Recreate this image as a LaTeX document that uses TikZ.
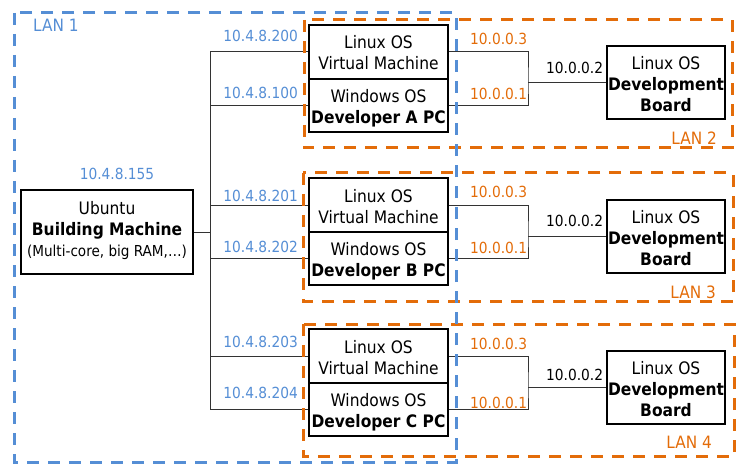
\documentclass[tikz,border=0pt]{standalone}
\usepackage{fontspec}
\setmainfont{DejaVu Sans Condensed}
\definecolor{lanblue}{HTML}{558ED5}
\definecolor{lanorange}{HTML}{E36C09}
\newcommand{\tsx}[1]{\rule{0pt}{#1pt}}
\newcommand{\bsx}[1]{\rule[-#1pt]{0pt}{#1pt}}
\pgfdeclarelayer{bg}
\pgfsetlayers{bg,main}
\tikzset{
  box/.style={draw=black, line width=2pt, fill=white, align=center, inner sep=0pt,
    font=\fontsize{17.2}{21}\selectfont},
  vmbox/.style={box, minimum width=139pt, minimum height=54pt},
  winbox/.style={box, minimum width=139pt, minimum height=53pt},
  boardbox/.style={box, minimum width=118pt, minimum height=73pt},
  ipblue/.style={font=\fontsize{15.3}{17}\selectfont, text=lanblue, inner sep=0pt},
  iporange/.style={font=\fontsize{15.3}{17}\selectfont, text=lanorange, inner sep=0pt},
  ipblack/.style={font=\fontsize{15.3}{17}\selectfont, text=black, inner sep=0pt},
  wire/.style={draw=black!80, line width=1pt},
  lanblueline/.style={draw=lanblue, line width=3pt, dash pattern=on 12pt off 9pt},
  lanorangeline/.style={draw=lanorange, line width=3pt, dash pattern=on 12pt off 9pt},
  lantag/.style={font=\fontsize{17}{19}\selectfont, inner sep=0pt}
}
\begin{document}
\begin{tikzpicture}[x=1pt,y=-1pt]
\useasboundingbox (0,0) rectangle (750,468);

% building machine
\node[box, minimum width=172pt, minimum height=83pt] (bm) at (107,232)
  {\tsx{16.6}Ubuntu\\\textbf{Building Machine}\\{\fontsize{15.1}{21}\selectfont (Multi-core, big RAM,…)}\bsx{10}};

% group A
\node[vmbox] (vmA) at (378.5,52) {\tsx{19.5}Linux OS\\Virtual Machine\bsx{4.5}};
\node[winbox] (winA) at (378.5,105.5) {\tsx{19.5}Windows OS\\\textbf{Developer A PC}\bsx{4.5}};
\node[boardbox] (boardA) at (666,83) {\tsx{20.5}Linux OS\\\textbf{Development}\\\textbf{Board}\bsx{4.5}};
% group B
\node[vmbox] (vmB) at (378.5,205) {\tsx{19.5}Linux OS\\Virtual Machine\bsx{4.5}};
\node[winbox] (winB) at (378.5,258.5) {\tsx{19.5}Windows OS\\\textbf{Developer B PC}\bsx{4.5}};
\node[boardbox] (boardB) at (666,236.6) {\tsx{20.5}Linux OS\\\textbf{Development}\\\textbf{Board}\bsx{4.5}};
% group C
\node[vmbox] (vmC) at (378.5,356) {\tsx{19.5}Linux OS\\Virtual Machine\bsx{4.5}};
\node[winbox] (winC) at (378.5,409.5) {\tsx{19.5}Windows OS\\\textbf{Developer C PC}\bsx{4.5}};
\node[boardbox] (boardC) at (666,387.6) {\tsx{20.5}Linux OS\\\textbf{Development}\\\textbf{Board}\bsx{4.5}};

% bus coordinates
\coordinate (busT) at (210,52);
\coordinate (busB) at (210,409.5);
\coordinate (jA) at (528,83);
\coordinate (jB) at (528,236.6);
\coordinate (jC) at (528,387.6);

\begin{pgfonlayer}{bg}
  \draw[wire] (busT) -- (busB);
  \draw[wire] (bm.east) -- (bm.east -| busT);
  \foreach \n in {vmA,winA,vmB,winB,vmC,winC}{
    \draw[wire] (\n.west) -- (\n.west -| busT);
  }
  \draw[wire] (vmA.east) -| (jA) |- (winA.east);
  \draw[wire] (jA) -- (boardA.west);
  \draw[wire] (vmB.east) -| (jB) |- (winB.east);
  \draw[wire] (jB) -- (boardB.west);
  \draw[wire] (vmC.east) -| (jC) |- (winC.east);
  \draw[wire] (jC) -- (boardC.west);
  % LAN regions
  \draw[lanorangeline] (304,20) rectangle (732,148);
  \draw[lanorangeline] (303,173) rectangle (733,301);
  \draw[lanorangeline] (303,324) rectangle (734,456);
  \draw[lanblueline] (14,13) rectangle (456,462);
\end{pgfonlayer}

% LAN tags
\node[lantag, text=lanblue, anchor=base west] (lan1) at (33,32) {LAN 1};
\node[lantag, text=lanorange, anchor=base east] (lan2) at (717,145) {LAN 2};
\node[lantag, text=lanorange, anchor=base east] (lan3) at (716,298) {LAN 3};
\node[lantag, text=lanorange, anchor=base east] (lan4) at (712,448) {LAN 4};

% LAN1 addresses
\node[ipblue, anchor=base] (ip155) at (117,179) {10.4.8.155};
\node[ipblue, anchor=base east] (ip200) at (298,42) {10.4.8.200};
\node[ipblue, anchor=base east] (ip100) at (298,99) {10.4.8.100};
\node[ipblue, anchor=base east] (ip201) at (298,201) {10.4.8.201};
\node[ipblue, anchor=base east] (ip202) at (298,252) {10.4.8.202};
\node[ipblue, anchor=base east] (ip203) at (298,347) {10.4.8.203};
\node[ipblue, anchor=base east] (ip204) at (298,398) {10.4.8.204};

% LAN 2-4 addresses
\node[iporange, anchor=base west] (a3) at (470,45) {10.0.0.3};
\node[iporange, anchor=base west] (a1) at (470,99.5) {10.0.0.1};
\node[ipblack, anchor=base west] (a2) at (546,74) {10.0.0.2};
\node[iporange, anchor=base west] (b3) at (470,197.7) {10.0.0.3};
\node[iporange, anchor=base west] (b1) at (470,253.3) {10.0.0.1};
\node[ipblack, anchor=base west] (b2) at (546,226.7) {10.0.0.2};
\node[iporange, anchor=base west] (c3) at (470,349) {10.0.0.3};
\node[iporange, anchor=base west] (c1) at (470,408.3) {10.0.0.1};
\node[ipblack, anchor=base west] (c2) at (546,380.7) {10.0.0.2};
\end{tikzpicture}
\end{document}
